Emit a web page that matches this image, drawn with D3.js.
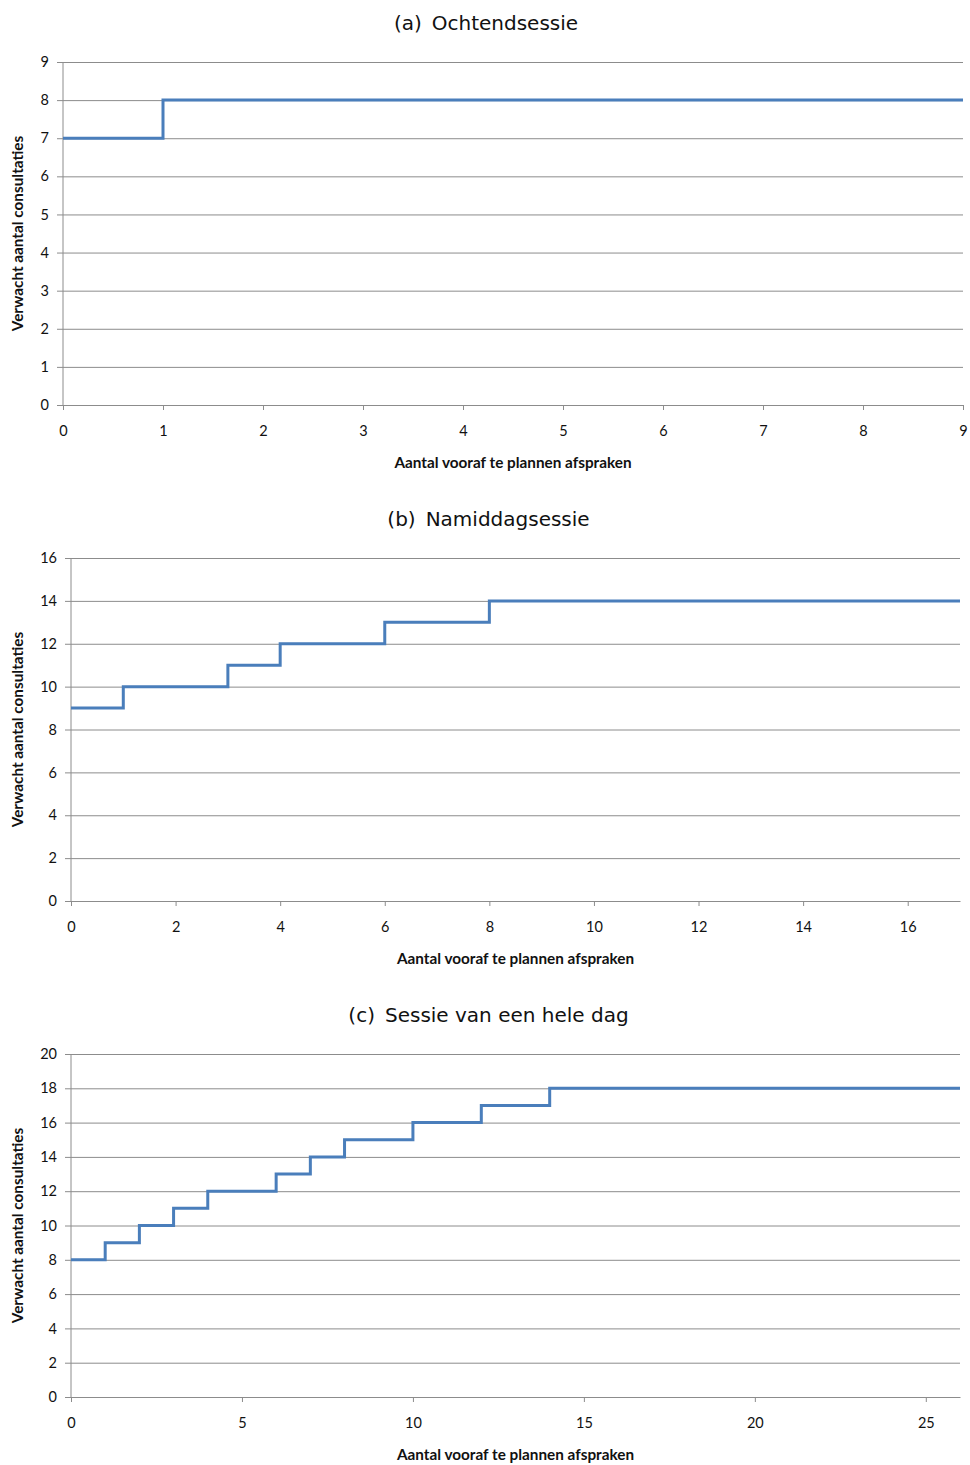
<!DOCTYPE html>
<html>
<head>
<meta charset="utf-8">
<script src="https://cdn.jsdelivr.net/npm/d3@7"></script>
<style>
  html, body { margin: 0; padding: 0; background: #fff; }
  svg { display: block; }
</style>
</head>
<body>
<svg id="chart" width="970" height="1465"></svg>
<script>
// Panel titles
const titles = ["(a)\u2002Ochtendsessie", "(b)\u2002Namiddagsessie", "(c)\u2002Sessie van een hele dag"];

// (a) morning session: step start points and expected consultations
const stepsA = [0, 1];
const valuesA = [7, 8];
const xMaxA = 9;
const yMaxA = 9;
const xTicksA = [0, 1, 2, 3, 4, 5, 6, 7, 8, 9];
const yTicksA = [0, 1, 2, 3, 4, 5, 6, 7, 8, 9];

// (b) afternoon session
const stepsB = [0, 1, 3, 4, 6, 8];
const valuesB = [9, 10, 11, 12, 13, 14];
const xMaxB = 17;
const yMaxB = 16;
const xTicksB = [0, 2, 4, 6, 8, 10, 12, 14, 16];
const yTicksB = [0, 2, 4, 6, 8, 10, 12, 14, 16];

// (c) full-day session
const stepsC = [0, 1, 2, 3, 4, 6, 7, 8, 10, 12, 14];
const valuesC = [8, 9, 10, 11, 12, 13, 14, 15, 16, 17, 18];
const xMaxC = 26;
const yMaxC = 20;
const xTicksC = [0, 5, 10, 15, 20, 25];
const yTicksC = [0, 2, 4, 6, 8, 10, 12, 14, 16, 18, 20];

const xLabel = "Aantal vooraf te plannen afspraken";
const yLabel = "Verwacht aantal consultaties";

const svg = d3.select("#chart");
const tickFont = "Lato, 'Open Sans', sans-serif";
const titleFont = "'DejaVu Sans', sans-serif";
const gridColor = "#8c8c8c";
const lineColor = "#4a7ebb";

function drawPanel(p) {
  const g = svg.append("g");
  const x = d3.scaleLinear().domain([0, p.xMax]).range([p.left, p.right]);
  const y = d3.scaleLinear().domain([0, p.yMax]).range([p.bottom, p.top]);

  // title
  g.append("text")
    .attr("x", (p.left + p.right) / 2 - 27)
    .attr("y", p.top - 32)
    .attr("text-anchor", "middle")
    .attr("font-family", titleFont)
    .attr("font-size", 20)
    .attr("fill", "#111")
    .text(p.title);

  // horizontal gridlines with y axis
  const yAxis = d3.axisLeft(y).tickValues(p.yTicks).tickSize(-(p.right - p.left) - 6).tickPadding(8);
  const yg = g.append("g").attr("transform", `translate(${p.left - 6},0)`).call(yAxis);
  yg.select(".domain").remove();
  yg.selectAll(".tick line").attr("stroke", gridColor).attr("stroke-width", 1);
  yg.selectAll(".tick text").attr("font-family", tickFont).attr("font-size", 14.5).attr("fill", "#111");

  // vertical axis line
  g.append("line")
    .attr("x1", p.left).attr("x2", p.left)
    .attr("y1", p.top).attr("y2", p.bottom)
    .attr("stroke", gridColor).attr("stroke-width", 1);

  // x axis
  const xAxis = d3.axisBottom(x).tickValues(p.xTicks).tickSize(5).tickSizeOuter(0).tickPadding(16);
  const xg = g.append("g").attr("transform", `translate(0,${p.bottom})`).call(xAxis);
  xg.select(".domain").attr("stroke", gridColor);
  xg.selectAll(".tick line").attr("stroke", gridColor);
  xg.selectAll(".tick text").attr("font-family", tickFont).attr("font-size", 14.5).attr("fill", "#111");

  // axis titles
  g.append("text")
    .attr("x", (p.left + p.right) / 2)
    .attr("y", p.bottom + 63)
    .attr("text-anchor", "middle")
    .attr("font-family", tickFont)
    .attr("font-weight", "bold")
    .attr("font-size", 15.3)
    .attr("fill", "#111")
    .text(xLabel);

  g.append("text")
    .attr("transform", `translate(23,${(p.top + p.bottom) / 2}) rotate(-90)`)
    .attr("text-anchor", "middle")
    .attr("font-family", tickFont)
    .attr("font-weight", "bold")
    .attr("font-size", 15.3)
    .attr("fill", "#111")
    .text(yLabel);

  // step line
  const pts = p.steps.map((s, i) => [s, p.values[i]]);
  pts.push([p.xMax, p.values[p.values.length - 1]]);
  const line = d3.line().x(d => x(d[0])).y(d => y(d[1])).curve(d3.curveStepAfter);
  g.append("path")
    .datum(pts)
    .attr("d", line)
    .attr("fill", "none")
    .attr("stroke", lineColor)
    .attr("stroke-width", 3)
    .attr("stroke-linejoin", "miter");
}

drawPanel({ title: titles[0], steps: stepsA, values: valuesA, xMax: xMaxA, yMax: yMaxA,
  xTicks: xTicksA, yTicks: yTicksA, left: 63, right: 963, top: 62, bottom: 405 });
drawPanel({ title: titles[1], steps: stepsB, values: valuesB, xMax: xMaxB, yMax: yMaxB,
  xTicks: xTicksB, yTicks: yTicksB, left: 71, right: 960, top: 558, bottom: 901 });
drawPanel({ title: titles[2], steps: stepsC, values: valuesC, xMax: xMaxC, yMax: yMaxC,
  xTicks: xTicksC, yTicks: yTicksC, left: 71, right: 960, top: 1054, bottom: 1397 });
</script>
</body>
</html>
